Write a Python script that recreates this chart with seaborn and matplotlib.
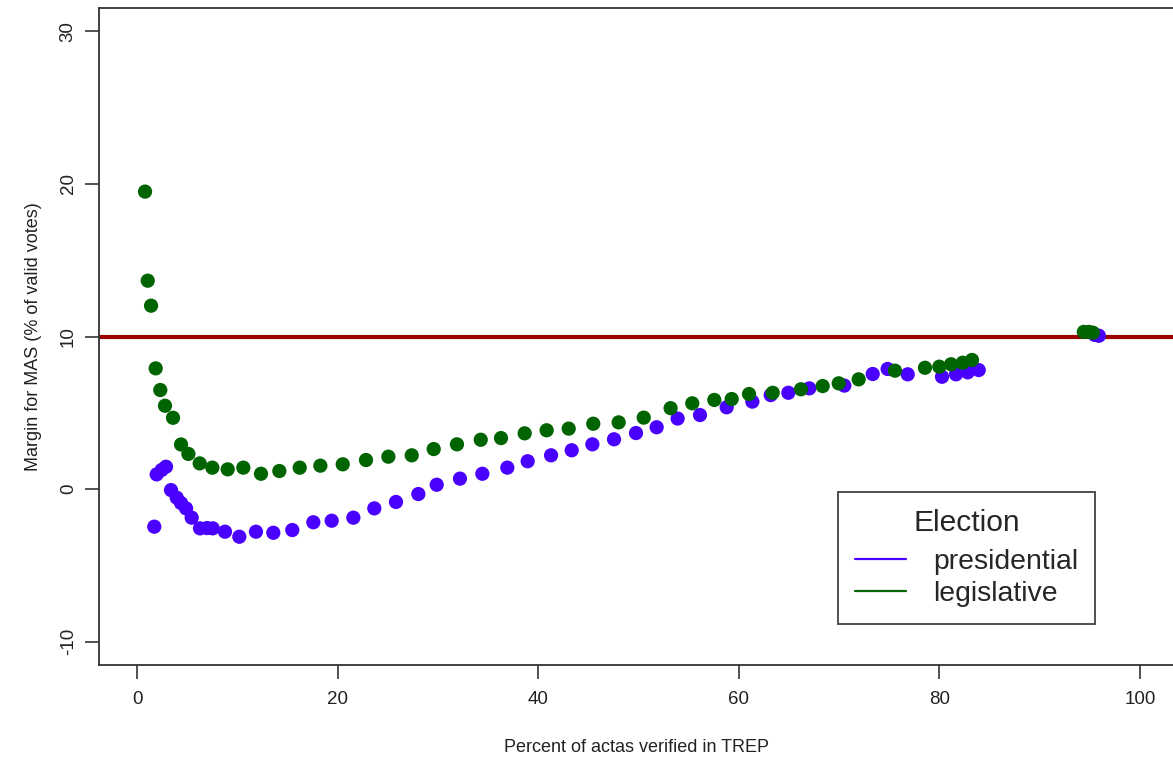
import matplotlib
matplotlib.use("Agg")
import matplotlib.pyplot as plt
from matplotlib.lines import Line2D
import seaborn as sns
import pandas as pd

pres_x = [1.72, 1.96, 2.46, 2.89, 3.39, 3.96, 4.39, 4.89, 5.45, 6.28, 6.98, 7.55, 8.77, 10.20,
          11.86, 13.59, 15.48, 17.58, 19.41, 21.57, 23.66, 25.82, 28.05, 29.88, 32.20, 34.43,
          36.92, 38.95, 41.28, 43.34, 45.40, 47.56, 49.75, 51.81, 53.90, 56.13, 58.79, 61.35,
          63.18, 64.94, 67.03, 70.52, 73.35, 74.84, 76.84, 80.26, 81.65, 82.82, 83.92,
          95.5, 95.9]
pres_y = [-2.47, 0.96, 1.25, 1.46, -0.07, -0.57, -0.92, -1.27, -1.88, -2.58, -2.56, -2.58, -2.80, -3.13,
          -2.80, -2.87, -2.69, -2.18, -2.08, -1.88, -1.27, -0.85, -0.33, 0.28, 0.68, 1.00,
          1.40, 1.82, 2.21, 2.54, 2.93, 3.26, 3.67, 4.05, 4.62, 4.85, 5.36, 5.73,
          6.16, 6.31, 6.60, 6.78, 7.54, 7.87, 7.52, 7.36, 7.52, 7.65, 7.80,
          10.10, 10.05]

leg_x = [0.80, 1.07, 1.40, 1.86, 2.32, 2.79, 3.59, 4.39, 5.12, 6.25, 7.51, 9.04, 10.60, 12.36,
         14.19, 16.22, 18.28, 20.51, 22.83, 25.06, 27.39, 29.58, 31.90, 34.27, 36.29, 38.65,
         40.84, 43.04, 45.49, 48.02, 50.52, 53.20, 55.36, 57.56, 59.29, 61.02, 63.38, 66.20,
         68.36, 69.96, 71.95, 75.57, 78.56, 79.99, 81.16, 82.32, 83.25, 94.4, 94.9, 95.3]
leg_y = [19.50, 13.66, 12.02, 7.91, 6.49, 5.46, 4.67, 2.92, 2.30, 1.68, 1.40, 1.29, 1.40, 1.00,
         1.18, 1.40, 1.53, 1.62, 1.90, 2.12, 2.21, 2.62, 2.93, 3.23, 3.34, 3.65,
         3.85, 3.96, 4.28, 4.37, 4.68, 5.30, 5.62, 5.84, 5.90, 6.23, 6.31, 6.54,
         6.75, 6.93, 7.19, 7.76, 7.95, 8.02, 8.18, 8.28, 8.46, 10.30, 10.30, 10.25]

elections = ["presidential", "legislative"]
threshold = 10
x_ticks = [0, 20, 40, 60, 80, 100]
y_ticks = [-10, 0, 10, 20, 30]

df = pd.DataFrame({
    "x": pres_x + leg_x,
    "y": pres_y + leg_y,
    "Election": [elections[0]] * len(pres_x) + [elections[1]] * len(leg_x),
})

sns.set_style("white")
plt.rcParams["font.family"] = ["Liberation Sans", "DejaVu Sans"]

PURPLE = "#4a00ff"
GREEN = "#006400"
palette = {elections[0]: PURPLE, elections[1]: GREEN}

fig = plt.figure(figsize=(11.73, 7.58), dpi=100)
ax = fig.add_axes([99 / 1173, 1 - 665 / 758, 1 - 99 / 1173, (665 - 8) / 758])

sns.scatterplot(data=df, x="x", y="y", hue="Election", palette=palette,
                s=105, linewidth=0, ax=ax, legend=False, zorder=3)
ax.axhline(threshold, color="#9c0000", lw=3.0, zorder=2)

ax.set_xlim(-3.79, 103.29)
ax.set_ylim(-11.54, 31.54)
ax.set_xticks(x_ticks)
ax.set_yticks(y_ticks)
ax.set_xticklabels([str(t) for t in x_ticks], fontsize=13.5, color="#222222")
ax.set_yticklabels([str(t) for t in y_ticks], fontsize=13.5, color="#222222",
                   rotation=90, va="center")
ax.tick_params(axis="both", direction="out", length=10, width=1.2, color="#333333",
               bottom=True, left=True)
ax.tick_params(axis="x", pad=9)
ax.tick_params(axis="y", pad=6)

for side in ["left", "bottom", "top"]:
    ax.spines[side].set_visible(True)
    ax.spines[side].set_color("#333333")
    ax.spines[side].set_linewidth(1.3)
ax.spines["right"].set_visible(False)

ax.set_xlabel("Percent of actas verified in TREP", fontsize=13, color="#222222", labelpad=22)
ax.set_ylabel("Margin for MAS (% of valid votes)", fontsize=13, color="#222222", labelpad=13)

handles = [Line2D([0], [0], color=PURPLE, lw=1.6),
           Line2D([0], [0], color=GREEN, lw=1.6)]
leg = ax.legend(handles, elections, title="Election", loc="lower left",
                bbox_to_anchor=((838 - 99) / 1074, (665 - 624) / 657),
                borderaxespad=0, fontsize=20.4, title_fontsize=21.6,
                frameon=True, fancybox=False, edgecolor="#222222",
                handlelength=1.8, handletextpad=0.95, labelspacing=0.22,
                borderpad=0.6)
leg.get_frame().set_linewidth(1.4)
try:
    leg._legend_box.sep = 8.5
except Exception:
    pass

fig.savefig("out.png", dpi=100)
